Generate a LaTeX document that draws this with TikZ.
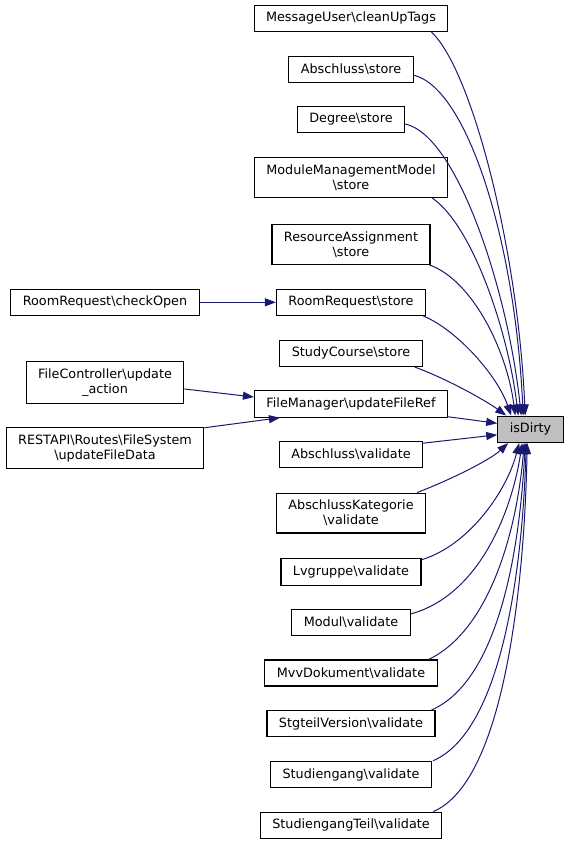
\documentclass[tikz,border=0pt]{standalone}
\usepackage{fontspec}
\setmainfont{DejaVu Sans}
\usetikzlibrary{arrows.meta}
\definecolor{edgeblue}{HTML}{191970}
\definecolor{hlgray}{HTML}{BFBFBF}
\newcommand{\bs}{\textbackslash}
\begin{document}
\begin{tikzpicture}[x=1pt,y=-1pt,
  fnbox/.style={draw=black, line width=1.1pt, fill=white,
    font=\fontsize{12.8}{15}\selectfont, inner xsep=12pt, inner ysep=7pt,
    minimum height=26pt, align=center, anchor=center},
  hlbox/.style={fnbox, fill=hlgray},
  calledge/.style={draw=edgeblue, line width=1pt,
    -{Triangle[length=11pt,width=8pt]}}
]
\useasboundingbox (0,0) rectangle (568,844);

\node[hlbox] (d) at (530.5,429.3) {isDirty};

\node[fnbox] (m1) at (351,18.3) {MessageUser\bs cleanUpTags};
\node[fnbox] (m2) at (351,69.2) {Abschluss\bs store};
\node[fnbox] (m3) at (351,119.5) {Degree\bs store};
\node[fnbox] (m4) at (351,177.5) {ModuleManagementModel\\\bs store};
\node[fnbox] (m5) at (351,244.5) {ResourceAssignment\\\bs store};
\node[fnbox] (m6) at (351,302.3) {RoomRequest\bs store};
\node[fnbox] (m7) at (351,353.3) {StudyCourse\bs store};
\node[fnbox] (m8) at (351,404) {FileManager\bs updateFileRef};
\node[fnbox] (m9) at (351,454.2) {Abschluss\bs validate};
\node[fnbox] (m10) at (351,513) {AbschlussKategorie\\\bs validate};
\node[fnbox] (m11) at (351,572) {Lvgruppe\bs validate};
\node[fnbox] (m12) at (351,622.5) {Modul\bs validate};
\node[fnbox] (m13) at (351,673) {MvvDokument\bs validate};
\node[fnbox] (m14) at (351,723.7) {StgteilVersion\bs validate};
\node[fnbox] (m15) at (351,774.5) {Studiengang\bs validate};
\node[fnbox] (m16) at (351,825.3) {StudiengangTeil\bs validate};

\node[fnbox] (r1) at (105,302.3) {RoomRequest\bs checkOpen};
\node[fnbox] (r2) at (105,382.5) {FileController\bs update\\\_action};
\node[fnbox] (r3) at (105,448) {RESTAPI\bs Routes\bs FileSystem\\\bs updateFileData};

% left edges
\draw[calledge] (r1.east) -- (m6.west);
\draw[calledge] ([yshift=-6.5pt]r2.east) -- ([yshift=7pt]m8.west);
\draw[calledge] ([yshift=-1pt]r3.north east) -- ([xshift=26pt]m8.south west);

% edges into isDirty
\draw[calledge] ([xshift=-17pt]m1.south east) .. controls (472,70) and (518,250) .. ([xshift=28pt]d.north west);
\draw[calledge] ([yshift=-6pt]m2.east) .. controls (467,88) and (515,240) .. ([xshift=26pt]d.north west);
\draw[calledge] ([yshift=-4.5pt]m3.east) .. controls (457,135) and (508,290) .. ([xshift=24pt]d.north west);
\draw[calledge] ([xshift=-16pt]m4.south east) .. controls (472,225) and (508,330) .. ([xshift=21pt]d.north west);
\draw[calledge] ([xshift=-1pt]m5.south east) .. controls (472,280) and (507,350) .. ([xshift=18pt]d.north west);
\draw[calledge] ([xshift=-3pt]m6.south east) .. controls (457,330) and (497,375) .. ([xshift=14pt]d.north west);
\draw[calledge] ([xshift=-8pt]m7.south east) .. controls (445,378) and (485,400) .. ([xshift=9pt]d.north west);
\draw[calledge] ([yshift=1pt]m8.south east) -- ([yshift=6pt]d.west);
\draw[calledge] ([yshift=-2.5pt]m9.north east) -- ([yshift=-5.5pt]d.west);
\draw[calledge] ([xshift=-9pt]m10.north east) .. controls (450,480) and (490,460) .. ([xshift=11pt]d.south west);
\draw[calledge] ([yshift=-1.5pt]m11.north east) .. controls (470,545) and (507,490) .. ([xshift=22pt]d.south west);
\draw[calledge] ([yshift=-5pt]m12.north east) .. controls (480,595) and (512,510) .. ([xshift=25pt]d.south west);
\draw[calledge] ([xshift=-9pt]m13.north east) .. controls (490,630) and (517,530) .. ([xshift=27pt]d.south west);
\draw[calledge] ([xshift=-4pt]m14.north east) .. controls (500,680) and (520,545) .. ([xshift=28pt]d.south west);
\draw[calledge] ([xshift=1pt]m15.north east) .. controls (505,730) and (523,555) .. ([xshift=29pt]d.south west);
\draw[calledge] ([xshift=-9pt]m16.north east) .. controls (508,780) and (525,565) .. ([xshift=30pt]d.south west);
\end{tikzpicture}
\end{document}
